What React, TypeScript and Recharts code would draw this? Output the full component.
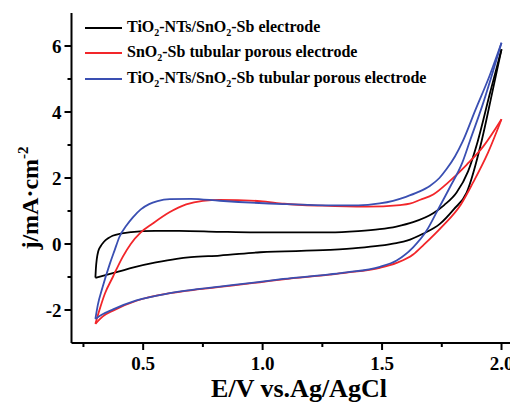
import { LineChart, Line, XAxis, YAxis, Legend } from "recharts";

// TiO2-NTs/SnO2-Sb electrode (black)
const blackFwdE = [0.3, 0.302, 0.306, 0.312, 0.322, 0.335, 0.355, 0.372, 0.41, 0.45, 0.55, 0.65, 0.82, 1.0, 1.28, 1.4, 1.49, 1.56, 1.63, 1.714, 1.76, 1.812, 1.86, 1.9, 1.951, 2.0];
const blackFwdJ = [-1.02, -0.75, -0.45, -0.22, -0.07, 0.06, 0.18, 0.25, 0.32, 0.36, 0.4, 0.4, 0.37, 0.35, 0.35, 0.39, 0.45, 0.53, 0.66, 0.93, 1.18, 1.56, 2.2, 3.1, 4.55, 5.9];
const blackRevE = [0.3, 0.35, 0.4, 0.46, 0.553, 0.64, 0.7, 0.82, 0.99, 1.28, 1.4, 1.49, 1.56, 1.604, 1.671, 1.742, 1.8, 1.854, 1.917, 1.96, 2.0];
const blackRevJ = [-1.03, -0.93, -0.83, -0.71, -0.56, -0.45, -0.4, -0.35, -0.25, -0.18, -0.12, -0.05, 0.03, 0.1, 0.31, 0.61, 1.05, 1.56, 3.13, 4.55, 5.9];

// SnO2-Sb tubular porous electrode (red)
const redFwdE = [0.3, 0.317, 0.34, 0.373, 0.41, 0.448, 0.49, 0.54, 0.61, 0.68, 0.75, 0.82, 0.99, 1.09, 1.25, 1.435, 1.575, 1.616, 1.66, 1.714, 1.776, 1.854, 1.923, 2.0];
const redFwdJ = [-2.42, -2.0, -1.5, -1.0, -0.45, 0.0, 0.35, 0.62, 0.96, 1.2, 1.31, 1.34, 1.3, 1.22, 1.16, 1.13, 1.18, 1.22, 1.34, 1.5, 1.86, 2.4, 2.95, 3.78];
const redRevE = [0.3, 0.33, 0.374, 0.472, 0.612, 0.737, 0.821, 0.988, 1.086, 1.281, 1.351, 1.491, 1.561, 1.63, 1.675, 1.75, 1.83, 1.88, 1.943, 2.0];
const redRevJ = [-2.42, -2.2, -2.02, -1.72, -1.49, -1.37, -1.3, -1.16, -1.07, -0.93, -0.87, -0.72, -0.57, -0.32, -0.02, 0.52, 1.2, 1.85, 2.76, 3.78];

// TiO2-NTs/SnO2-Sb tubular porous electrode (blue)
const blueFwdE = [0.3, 0.31, 0.33, 0.36, 0.38, 0.401, 0.43, 0.456, 0.49, 0.525, 0.56, 0.612, 0.7, 0.821, 1.086, 1.3, 1.4, 1.49, 1.546, 1.6, 1.65, 1.7, 1.74, 1.77, 1.805, 1.837, 1.89, 1.95, 2.0];
const blueFwdJ = [-2.27, -1.85, -1.31, -0.61, -0.2, 0.22, 0.56, 0.8, 1.05, 1.21, 1.3, 1.36, 1.37, 1.31, 1.21, 1.17, 1.17, 1.23, 1.31, 1.43, 1.57, 1.76, 2.0, 2.27, 2.65, 3.1, 4.05, 5.1, 6.1];
const blueRevE = [0.3, 0.33, 0.374, 0.472, 0.612, 0.737, 0.821, 0.988, 1.086, 1.281, 1.351, 1.491, 1.561, 1.63, 1.686, 1.728, 1.784, 1.835, 1.868, 1.92, 2.0];
const blueRevJ = [-2.27, -2.13, -1.98, -1.71, -1.49, -1.36, -1.29, -1.15, -1.06, -0.92, -0.86, -0.69, -0.5, -0.1, 0.4, 0.96, 1.72, 2.45, 3.13, 4.2, 6.1];

const xTicks = [0.25, 0.5, 0.75, 1.0, 1.25, 1.5, 1.75, 2.0];
const xLabels = [0.5, 1.0, 1.5, 2.0];
const yTicks = [-2, -1, 0, 1, 2, 3, 4, 5, 6];
const yLabels = [-2, 0, 2, 4, 6];

const BLACK = "#000000";
const RED = "#f2262a";
const BLUE = "#3a4fb2";
const FONT = "'Liberation Serif', 'Times New Roman', serif";

const zip = (e: number[], j: number[]) => e.map((v, i) => ({ e: v, j: j[i] }));

const series = [
  { key: "bf", color: BLACK, data: zip(blackFwdE, blackFwdJ) },
  { key: "br", color: BLACK, data: zip(blackRevE, blackRevJ) },
  { key: "rf", color: RED, data: zip(redFwdE, redFwdJ) },
  { key: "rr", color: RED, data: zip(redRevE, redRevJ) },
  { key: "uf", color: BLUE, data: zip(blueFwdE, blueFwdJ) },
  { key: "ur", color: BLUE, data: zip(blueRevE, blueRevJ) },
];

const sub = (t: string) => <sub style={{ fontSize: 10 }}>{t}</sub>;

const legendItems = [
  { color: BLACK, label: <>TiO{sub("2")}-NTs/SnO{sub("2")}-Sb electrode</> },
  { color: RED, label: <>SnO{sub("2")}-Sb tubular porous electrode</> },
  { color: BLUE, label: <>TiO{sub("2")}-NTs/SnO{sub("2")}-Sb tubular porous electrode</> },
];

const XTick = (props: any) => {
  const { x, y, payload } = props;
  const major = xLabels.includes(payload.value);
  return (
    <g>
      <line x1={x} x2={x} y1={y} y2={y + (major ? 7 : 4)} stroke="#000" strokeWidth={2} />
      {major && (
        <text x={x} y={y + 27} textAnchor="middle" fontFamily={FONT} fontWeight="bold" fontSize={19} fill="#000">
          {payload.value.toFixed(1)}
        </text>
      )}
    </g>
  );
};

const YTick = (props: any) => {
  const { x, y, payload } = props;
  const major = yLabels.includes(payload.value);
  return (
    <g>
      <line x1={x} x2={x - (major ? 7 : 4)} y1={y} y2={y} stroke="#000" strokeWidth={2} />
      {major && (
        <text x={x - 10} y={y + 6.5} textAnchor="end" fontFamily={FONT} fontWeight="bold" fontSize={19} fill="#000">
          {payload.value}
        </text>
      )}
    </g>
  );
};

const XTitle = () => (
  <text x={291} y={389} textAnchor="middle" fontFamily={FONT} fontWeight="bold" fontSize={26} fill="#000">
    E/V vs.Ag/AgCl
  </text>
);

const YTitle = () => (
  <text transform="rotate(-90)" x={-190} y={30} textAnchor="middle" fontFamily={FONT} fontWeight="bold" fontSize={24} fill="#000">
    j/mA·cm<tspan fontSize={15} dy={-10}>-2</tspan>
  </text>
);

const renderLegend = () => (
  <div style={{ fontFamily: FONT, fontWeight: "bold", fontSize: 16, color: "#000" }}>
    {legendItems.map((it, i) => (
      <div key={i} style={{ display: "flex", alignItems: "center", height: 25.5, whiteSpace: "nowrap" }}>
        <svg width={37} height={4} style={{ marginRight: 5 }}>
          <line x1={0} x2={37} y1={2} y2={2} stroke={it.color} strokeWidth={2} />
        </svg>
        <span>{it.label}</span>
      </div>
    ))}
  </div>
);

export default function App() {
  return (
    <div style={{ width: 510, height: 395 }}>
      <LineChart width={510} height={395} margin={{ top: 5, right: 0, bottom: 0, left: 0 }}>
        <XAxis
          dataKey="e"
          type="number"
          domain={[0.2, 2.069]}
          ticks={xTicks}
          allowDataOverflow
          height={60}
          tickSize={0}
          tickMargin={0}
          tickLine={false}
          axisLine={{ stroke: "#000", strokeWidth: 2 }}
          tick={<XTick />}
          label={<XTitle />}
        />
        <XAxis
          xAxisId="top"
          orientation="top"
          dataKey="e"
          type="number"
          domain={[0.2, 2.069]}
          height={0}
          tick={false}
          tickLine={false}
          axisLine={{ stroke: "#000", strokeWidth: 2 }}
        />
        <YAxis
          type="number"
          domain={[-3, 7]}
          ticks={yTicks}
          allowDataOverflow
          width={63.5}
          tickSize={0}
          tickMargin={0}
          tickLine={false}
          axisLine={{ stroke: "#000", strokeWidth: 2 }}
          tick={<YTick />}
          label={<YTitle />}
        />
        <Legend
          layout="vertical"
          align="center"
          verticalAlign="middle"
          content={renderLegend}
          wrapperStyle={{ top: 7, left: 77, width: "auto" }}
        />
        {series.map((s) => (
          <Line
            key={s.key}
            data={s.data}
            dataKey="j"
            type="monotone"
            stroke={s.color}
            strokeWidth={1.8}
            dot={false}
            legendType="none"
            isAnimationActive={false}
          />
        ))}
      </LineChart>
    </div>
  );
}
